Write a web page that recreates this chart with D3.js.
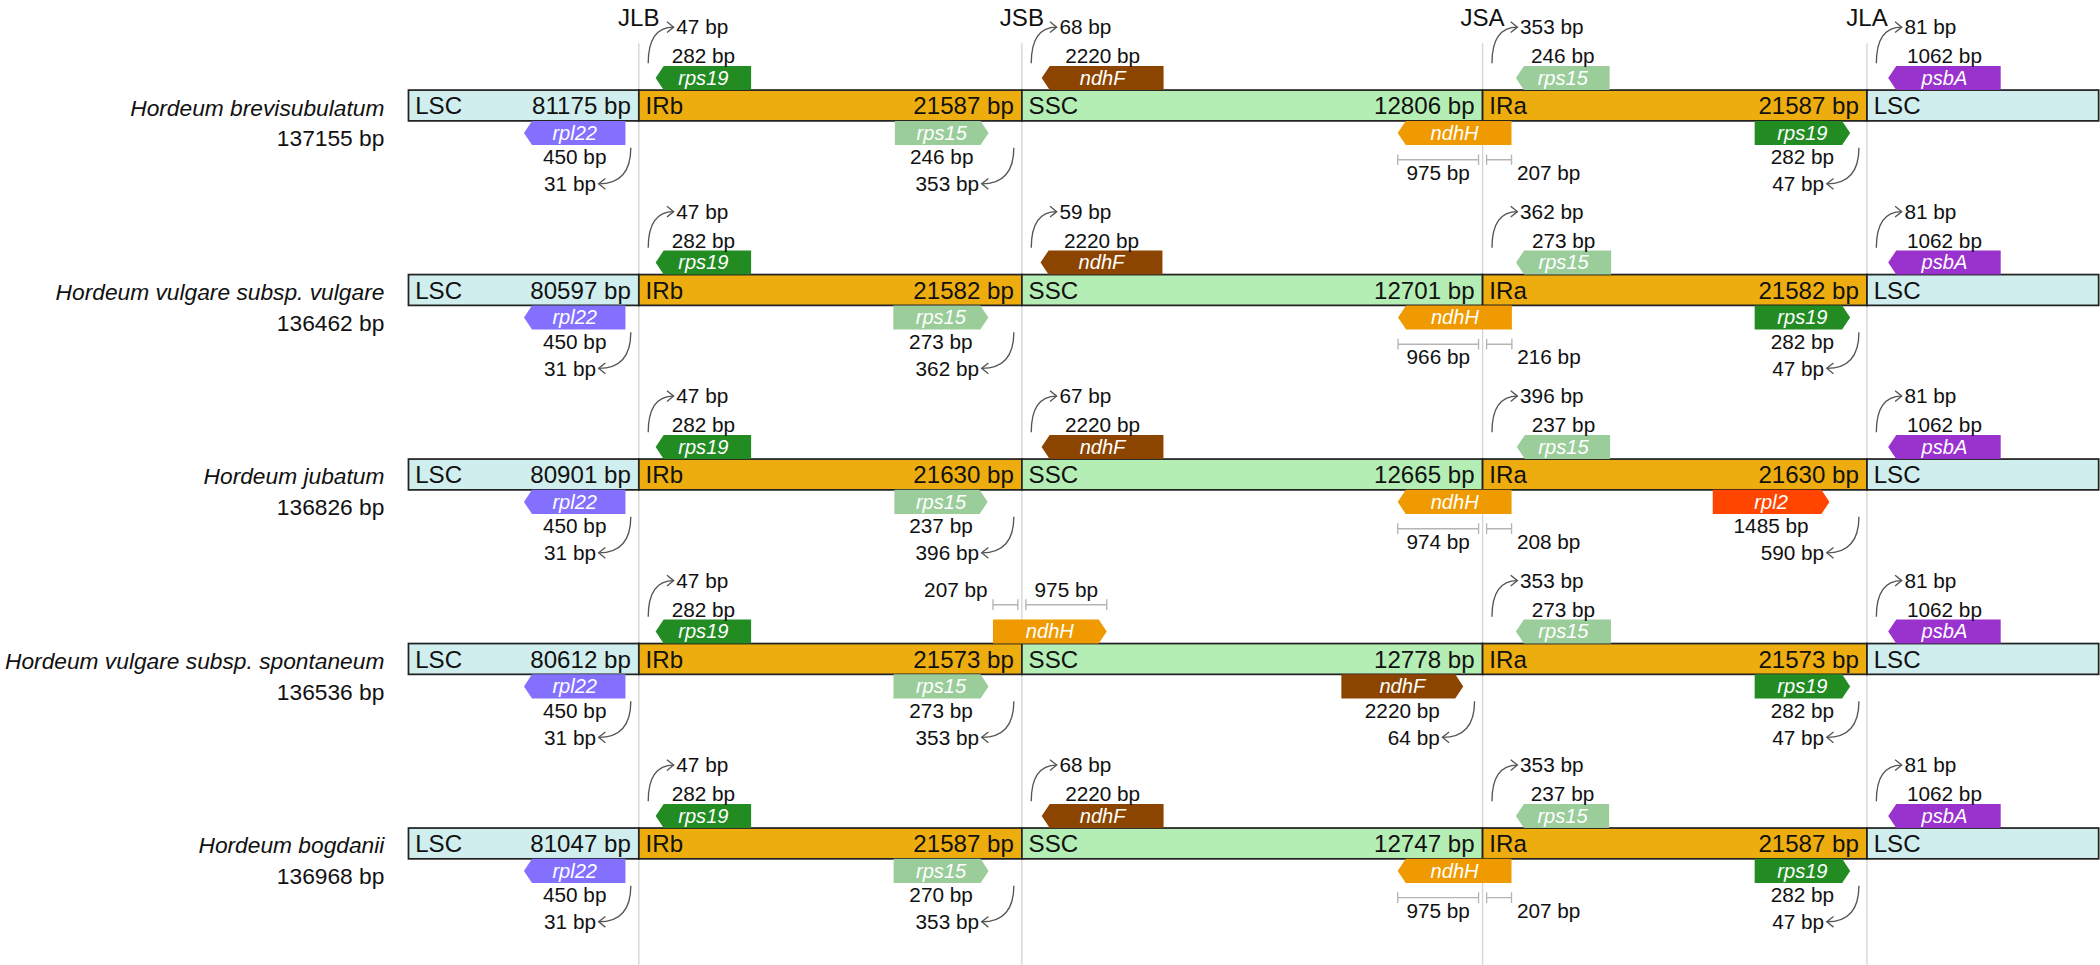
<!DOCTYPE html>
<html>
<head>
<meta charset="utf-8">
<script src="https://cdn.jsdelivr.net/npm/d3@7"></script>
<style>
  body { margin: 0; background: #fff; }
  svg { display: block; font-family: "Liberation Sans", Arial, Helvetica, sans-serif; }
</style>
</head>
<body>
<div id="chart"></div>
<script>
// ---- data ----
const species = [
  "Hordeum brevisubulatum",
  "Hordeum vulgare subsp. vulgare",
  "Hordeum jubatum",
  "Hordeum vulgare subsp. spontaneum",
  "Hordeum bogdanii"
];
const genomeSizes = [137155, 136462, 136826, 136536, 136968];
const lscSizes = [81175, 80597, 80901, 80612, 81047];
const irSizes = [21587, 21582, 21630, 21573, 21587];
const sscSizes = [12806, 12701, 12665, 12778, 12747];
const junctions = ["JLB", "JSB", "JSA", "JLA"];
const regions = ["LSC", "IRb", "SSC", "IRa", "LSC"];

// [gene, junction, track, strand, side, bp, bp]
// side R/L: length, distance from junction ; side X: bp left of junction, bp right of junction
const genesBrevisubulatum = [
  ["rps19", "JLB", "top", "-", "R", 282, 47],
  ["rpl22", "JLB", "bottom", "-", "L", 450, 31],
  ["ndhF", "JSB", "top", "-", "R", 2220, 68],
  ["rps15", "JSB", "bottom", "+", "L", 246, 353],
  ["rps15", "JSA", "top", "-", "R", 246, 353],
  ["ndhH", "JSA", "bottom", "-", "X", 975, 207],
  ["psbA", "JLA", "top", "-", "R", 1062, 81],
  ["rps19", "JLA", "bottom", "+", "L", 282, 47]
];
const genesVulgare = [
  ["rps19", "JLB", "top", "-", "R", 282, 47],
  ["rpl22", "JLB", "bottom", "-", "L", 450, 31],
  ["ndhF", "JSB", "top", "-", "R", 2220, 59],
  ["rps15", "JSB", "bottom", "+", "L", 273, 362],
  ["rps15", "JSA", "top", "-", "R", 273, 362],
  ["ndhH", "JSA", "bottom", "-", "X", 966, 216],
  ["psbA", "JLA", "top", "-", "R", 1062, 81],
  ["rps19", "JLA", "bottom", "+", "L", 282, 47]
];
const genesJubatum = [
  ["rps19", "JLB", "top", "-", "R", 282, 47],
  ["rpl22", "JLB", "bottom", "-", "L", 450, 31],
  ["ndhF", "JSB", "top", "-", "R", 2220, 67],
  ["rps15", "JSB", "bottom", "+", "L", 237, 396],
  ["rps15", "JSA", "top", "-", "R", 237, 396],
  ["ndhH", "JSA", "bottom", "-", "X", 974, 208],
  ["psbA", "JLA", "top", "-", "R", 1062, 81],
  ["rpl2", "JLA", "bottom", "+", "L", 1485, 590]
];
const genesSpontaneum = [
  ["rps19", "JLB", "top", "-", "R", 282, 47],
  ["rpl22", "JLB", "bottom", "-", "L", 450, 31],
  ["ndhH", "JSB", "top", "+", "X", 207, 975],
  ["rps15", "JSB", "bottom", "+", "L", 273, 353],
  ["rps15", "JSA", "top", "-", "R", 273, 353],
  ["ndhF", "JSA", "bottom", "+", "L", 2220, 64],
  ["psbA", "JLA", "top", "-", "R", 1062, 81],
  ["rps19", "JLA", "bottom", "+", "L", 282, 47]
];
const genesBogdanii = [
  ["rps19", "JLB", "top", "-", "R", 282, 47],
  ["rpl22", "JLB", "bottom", "-", "L", 450, 31],
  ["ndhF", "JSB", "top", "-", "R", 2220, 68],
  ["rps15", "JSB", "bottom", "+", "L", 270, 353],
  ["rps15", "JSA", "top", "-", "R", 237, 353],
  ["ndhH", "JSA", "bottom", "-", "X", 975, 207],
  ["psbA", "JLA", "top", "-", "R", 1062, 81],
  ["rps19", "JLA", "bottom", "+", "L", 282, 47]
];
const geneRows = [genesBrevisubulatum, genesVulgare, genesJubatum, genesSpontaneum, genesBogdanii];

// ---- style / layout ----
const regionColor = { LSC: "#d1eeee", IRb: "#eead0e", SSC: "#b4eeb4", IRa: "#eead0e" };
const geneColor = {
  rps19: "#228b22", rpl22: "#8470ff", ndhF: "#8b4500", rps15: "#9bcd9b",
  ndhH: "#ee9a00", psbA: "#9a32cd", rpl2: "#ff4500"
};

const W = 1568, H = 720;
const barH = 23, geneH = 18, tip = 6;
const barLeft = 305, barRight = 1567;

const svg = d3.select("#chart").append("svg")
  .attr("width", 2100).attr("height", 965)
  .attr("viewBox", `0 0 ${W} ${H}`);

const xJ = d3.scaleOrdinal().domain(junctions).range([477, 763, 1107, 1394]);
const yRow = d3.scalePoint().domain(species).range([67, 618]);
// compressed scales used for gene length and distance to junction
const widthScale = d3.scaleLog().domain([246, 2220]).range([70, 91]);
const gapScale = d3.scaleLog().domain([31, 590]).range([10, 28]);

const bounds = [barLeft].concat(junctions.map(j => xJ(j)), [barRight]);
const fmt = v => v + " bp";

// junction lines + titles
svg.append("g").selectAll("line").data(junctions).enter().append("line")
  .attr("x1", d => xJ(d)).attr("x2", d => xJ(d))
  .attr("y1", 32).attr("y2", H)
  .attr("stroke", "#d4d4d4").attr("stroke-width", 1);

svg.append("g").selectAll("text").data(junctions).enter().append("text")
  .attr("x", d => xJ(d)).attr("y", 19)
  .attr("text-anchor", "middle")
  .style("font-size", "18px").style("fill", "#111")
  .text(d => d);

function geneBox(g) {
  const xj = xJ(g[1]), side = g[4], a = g[5], b = g[6];
  if (side === "R") { const x0 = xj + gapScale(b); return [x0, x0 + widthScale(a)]; }
  if (side === "L") { const x1 = xj - gapScale(b); return [x1 - widthScale(a), x1]; }
  const w = widthScale(a + b);
  if (b < a) { const x1 = xj + gapScale(b); return [x1 - w, x1]; }
  const x0 = xj - gapScale(a);
  return [x0, x0 + w];
}

function arrowPts(x0, x1, y0, y1, strand) {
  const ym = (y0 + y1) / 2;
  if (strand === "-") return [[x0, ym], [x0 + tip, y0], [x1, y0], [x1, y1], [x0 + tip, y1]];
  return [[x0, y0], [x1 - tip, y0], [x1, ym], [x1 - tip, y1], [x0, y1]];
}

function label(g, x, y, txt, anchor) {
  g.append("text").attr("x", x).attr("y", y)
    .attr("text-anchor", anchor || "middle")
    .style("font-size", "15.5px").style("fill", "#111")
    .text(txt);
}

function bracket(g, xa, xb, y) {
  g.append("path")
    .attr("d", `M${xa},${y}H${xb}M${xa},${y - 4}V${y + 4}M${xb},${y - 4}V${y + 4}`)
    .attr("fill", "none").attr("stroke", "#b5b5b5").attr("stroke-width", 1);
}

species.forEach((sp, i) => {
  const top = yRow(sp);
  const row = svg.append("g");

  // species name and genome size
  row.append("text").attr("x", 287).attr("y", top + 19)
    .attr("text-anchor", "end").style("font-size", "17px").style("font-style", "italic")
    .style("fill", "#111").text(sp);
  row.append("text").attr("x", 287).attr("y", top + 42)
    .attr("text-anchor", "end").style("font-size", "17px")
    .style("fill", "#111").text(fmt(genomeSizes[i]));

  // region bar
  const sizes = [lscSizes[i], irSizes[i], sscSizes[i], irSizes[i], null];
  regions.forEach((r, k) => {
    row.append("rect")
      .attr("x", bounds[k]).attr("y", top)
      .attr("width", bounds[k + 1] - bounds[k]).attr("height", barH)
      .attr("fill", regionColor[r]).attr("stroke", "#222").attr("stroke-width", 1.3);
    row.append("text").attr("x", bounds[k] + 5).attr("y", top + 18)
      .style("font-size", "18px").style("fill", "#111").text(r);
    if (sizes[k] != null) {
      row.append("text").attr("x", bounds[k + 1] - 6).attr("y", top + 18)
        .attr("text-anchor", "end")
        .style("font-size", "18px").style("fill", "#111").text(fmt(sizes[k]));
    }
  });

  // genes
  geneRows[i].forEach(g => {
    const [name, j, track, strand, side, a, b] = g;
    const xj = xJ(j);
    const [x0, x1] = geneBox(g);
    const y0 = track === "top" ? top - geneH : top + barH;
    const y1 = y0 + geneH;

    row.append("polygon")
      .attr("points", arrowPts(x0, x1, y0, y1, strand).map(p => p.join(",")).join(" "))
      .attr("fill", geneColor[name]);
    row.append("text").attr("x", (x0 + x1) / 2).attr("y", y0 + 14)
      .attr("text-anchor", "middle")
      .style("font-size", "15px").style("font-style", "italic").style("fill", "#fff")
      .text(name);

    if (side === "X") {
      const by = track === "top" ? top - 29 : top + 52;
      const ty = track === "top" ? top - 35 : top + 67;
      bracket(row, x0, xj - 3, by);
      bracket(row, xj + 3, x1, by);
      if (b < a) {
        label(row, (x0 + xj - 3) / 2, ty, fmt(a));
        label(row, x1 + 4, ty, fmt(b), "start");
      } else {
        label(row, x0 - 4, ty, fmt(a), "end");
        label(row, (xj + 3 + x1) / 2, ty, fmt(b));
      }
      return;
    }

    const arrow = row.append("g").attr("fill", "none").attr("stroke", "#555").attr("stroke-width", 1);
    if (track === "top") {
      label(row, (x0 + x1) / 2, top - 20, fmt(a));
      const ex = xj + 26, ey = top - 47;
      arrow.append("path").attr("d", `M${xj + 7},${top - 20}Q${xj + 7},${ey} ${ex},${ey}`);
      arrow.append("path").attr("d", `M${ex - 5},${ey - 4}L${ex},${ey}L${ex - 5},${ey + 4}`);
      label(row, ex + 2, ey + 5.5, fmt(b), "start");
    } else {
      label(row, (x0 + x1) / 2, top + 55.5, fmt(a));
      const ex = xj - 30, ey = top + 70;
      arrow.append("path").attr("d", `M${xj - 6},${top + 43}Q${xj - 6},${ey} ${ex},${ey}`);
      arrow.append("path").attr("d", `M${ex + 5},${ey - 4}L${ex},${ey}L${ex + 5},${ey + 4}`);
      label(row, ex - 2, ey + 5.5, fmt(b), "end");
    }
  });
});
</script>
</body>
</html>
